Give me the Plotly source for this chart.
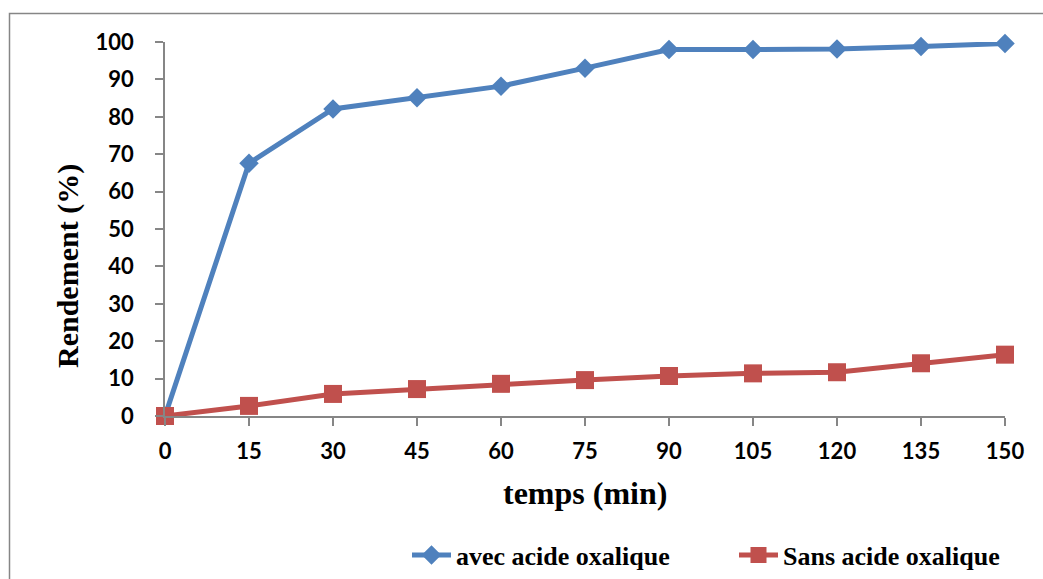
import plotly.graph_objects as go

temps = [0, 15, 30, 45, 60, 75, 90, 105, 120, 135, 150]
avec_acide = [0, 67.6, 82.1, 85.1, 88.2, 93.0, 98.0, 98.0, 98.1, 98.8, 99.6]
sans_acide = [0, 2.7, 5.9, 7.2, 8.6, 9.6, 10.7, 11.4, 11.7, 14.1, 16.4]
series_names = ["avec acide oxalique", "Sans acide oxalique"]
x_ticks = temps
y_ticks = [0, 10, 20, 30, 40, 50, 60, 70, 80, 90, 100]

BLUE = "#4F81BD"
RED = "#C0504D"
GRID = "#868686"

fig = go.Figure()
fig.add_trace(go.Scatter(
    x=temps, y=avec_acide, name=series_names[0], mode="lines+markers",
    line=dict(color=BLUE, width=5),
    marker=dict(symbol="diamond", size=15, color=BLUE),
    cliponaxis=False,
))
fig.add_trace(go.Scatter(
    x=temps, y=sans_acide, name=series_names[1], mode="lines+markers",
    line=dict(color=RED, width=5),
    marker=dict(symbol="square", size=18, color=RED),
    cliponaxis=False,
))

L, R, T, B = 165, 38, 42, 163
W, H = 1043, 579
pw, ph = W - L - R, H - T - B

def px(xp):
    return (xp - L) / pw

def py(yp):
    return (H - B - yp) / ph

tickfont = dict(family="Lato", size=22, color="black", weight="bold")
fig.update_layout(
    width=W, height=H,
    margin=dict(l=L, r=R, t=T, b=B, pad=0, autoexpand=False),
    paper_bgcolor="white", plot_bgcolor="white",
    showlegend=True,
    legend=dict(
        orientation="h", xref="container", yref="container",
        x=407 / W, y=(H - 555) / H, xanchor="left", yanchor="middle",
        font=dict(family="Liberation Serif", size=26, color="black", weight="bold"),
        entrywidth=273, entrywidthmode="pixels", itemwidth=39,
        bgcolor="rgba(0,0,0,0)", itemsizing="trace",
    ),
    xaxis=dict(
        range=[0, 150], tickvals=x_ticks, ticktext=[str(v) for v in x_ticks],
        showgrid=False, zeroline=False, showline=True, linecolor=GRID, linewidth=1.5,
        ticks="outside", ticklen=8, tickwidth=1.5, tickcolor=GRID,
        tickfont=tickfont, ticklabelstandoff=7, automargin=False,
    ),
    yaxis=dict(
        range=[0, 100], tickvals=y_ticks, ticktext=[str(v) for v in y_ticks],
        showgrid=False, zeroline=False, showline=True, linecolor=GRID, linewidth=1.5,
        ticks="outside", ticklen=8, tickwidth=1.5, tickcolor=GRID,
        tickfont=tickfont, ticklabelstandoff=17, automargin=False,
    ),
    annotations=[
        dict(text="Rendement (%)", x=px(68), y=py(266), xref="paper", yref="paper",
             showarrow=False, textangle=-90, xanchor="center", yanchor="middle",
             font=dict(family="Liberation Serif", size=30, color="black", weight="bold")),
        dict(text="temps (min)", x=px(585), y=py(493), xref="paper", yref="paper",
             showarrow=False, xanchor="center", yanchor="middle",
             font=dict(family="Liberation Serif", size=32, color="black", weight="bold")),
    ],
    shapes=[
        dict(type="rect", xref="paper", yref="paper",
             x0=px(9.5), x1=px(1060), y0=py(600), y1=py(13.5),
             line=dict(color=GRID, width=1.5), fillcolor="rgba(0,0,0,0)", layer="below"),
    ],
)

fig.write_html("out.html")
